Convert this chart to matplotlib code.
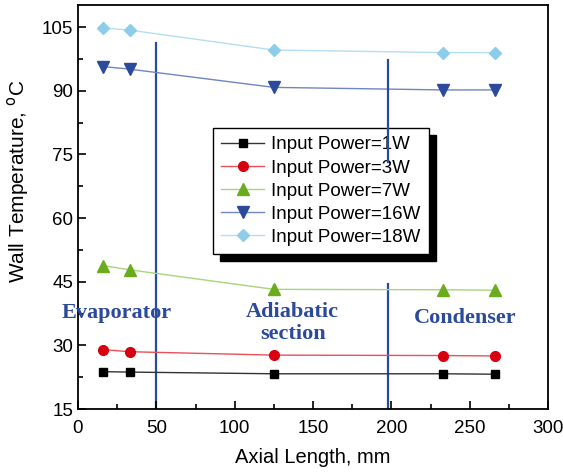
import matplotlib
matplotlib.use('Agg')
import matplotlib.pyplot as plt

# axial positions (mm)
x = [16, 33, 125, 233, 266]

# wall temperatures for each input power
t_1w = [23.8, 23.7, 23.3, 23.3, 23.2]
t_3w = [29.0, 28.5, 27.7, 27.6, 27.5]
t_7w = [48.8, 47.8, 43.2, 43.1, 43.0]
t_16w = [95.7, 95.1, 90.8, 90.2, 90.2]
t_18w = [104.8, 104.3, 99.6, 99.0, 99.0]

labels = ['Input Power=1W', 'Input Power=3W', 'Input Power=7W',
          'Input Power=16W', 'Input Power=18W']
series = [t_1w, t_3w, t_7w, t_16w, t_18w]
markers = ['s', 'o', '^', 'v', 'D']
marker_colors = ['#000000', '#d7000f', '#6aac1e', '#2b4a9c', '#8ecdea']
line_colors = ['#333333', '#e8505a', '#a6d57a', '#6f86c4', '#b3def2']
marker_sizes = [5.8, 7, 8, 8, 6.5]

# section boundaries
boundaries = [(50, 15, 101.3), (198, 44.5, 15)]
upper_boundary = (198, 73.2, 97.2)
sections = [('Evaporator', 25, 37.6), ('Adiabatic\nsection', 137, 35.3),
            ('Condenser', 247, 36.4)]

plt.rcParams['font.family'] = ['Liberation Sans', 'DejaVu Sans']

fig = plt.figure(figsize=(5.63, 4.73), dpi=100)
ax = fig.add_axes([0.1385, 0.1353, 0.835, 0.854])

for xv, y0, y1 in boundaries:
    ax.plot([xv, xv], [y0, y1], color='#2b4a9c', lw=1.6, zorder=1)
ax.plot([upper_boundary[0]] * 2, upper_boundary[1:], color='#2b4a9c',
        lw=1.6, zorder=10)

for ys, lab, m, mc, lc, ms in zip(series, labels, markers, marker_colors,
                                  line_colors, marker_sizes):
    ax.plot(x, ys, color=lc, lw=1.0, marker=m, markersize=ms,
            markerfacecolor=mc, markeredgecolor=mc, label=lab, zorder=2)

for txt, xv, yv in sections:
    ax.text(xv, yv, txt, ha='center', va='center', fontsize=16,
            fontweight='bold', family='Liberation Serif', color='#2b4a9c',
            linespacing=1.1)

ax.set_xlim(0, 300)
ax.set_ylim(15, 110.2)
ax.set_xticks(range(0, 301, 50))
ax.set_xticks(range(25, 300, 50), minor=True)
ax.set_yticks(range(15, 106, 15))
ax.set_yticks([22.5, 37.5, 52.5, 67.5, 82.5, 97.5], minor=True)
ax.tick_params(direction='in', which='both', labelsize=13.5, width=1.2)
ax.tick_params(which='major', length=6)
ax.tick_params(which='minor', length=3.5)
ax.tick_params(axis='x', pad=8)
for s in ax.spines.values():
    s.set_linewidth(1.3)

ax.set_xlabel('Axial Length, mm', fontsize=14.5, labelpad=8)
ax.set_ylabel('Wall Temperature, $^{\\mathrm{o}}$C', fontsize=15)
ax.yaxis.set_label_coords(-0.1, 0.564)

leg = ax.legend(loc='upper left', bbox_to_anchor=(0.287, 0.696), fontsize=13.5,
                frameon=True, fancybox=False, edgecolor='black',
                shadow={'color': 'black', 'alpha': 1, 'ox': 5, 'oy': -5},
                borderpad=0.45, labelspacing=0.32, handlelength=2.3,
                handletextpad=0.35, borderaxespad=0)
leg.get_frame().set_linewidth(1.0)
leg.set_zorder(5)

fig.savefig('out.png', dpi=100)
